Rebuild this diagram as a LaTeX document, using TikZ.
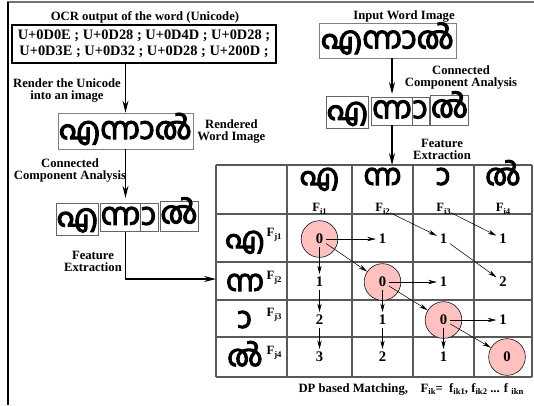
\documentclass[tikz,border=0pt]{standalone}
\usepackage{fontspec}
\setmainfont{Liberation Serif}
\newfontfamily\mlfont[Script=Malayalam, FakeBold=3.5]{Hind Kochi}
\usetikzlibrary{arrows.meta, positioning}
\definecolor{zeropink}{RGB}{255,192,192}
\newcommand{\lowsub}[1]{\raisebox{-0.45ex}{\fontsize{6.5}{6.5}\selectfont #1}}
\newcommand{\aasign}{\kern-0.26em ^^^^00a0ാ}

\begin{document}
\begin{tikzpicture}[x=0.75pt, y=-0.75pt,
		every node/.style={font=\bfseries\fontsize{9.5}{9}\selectfont, inner sep=0pt},
		lbl/.style={align=center},
		codebox/.style={draw, line width=0.8pt, align=center, minimum width=198pt, minimum height=28.5pt, font=\bfseries\fontsize{10.8}{12}\selectfont},
		wordimg/.style={draw=black!50, line width=0.5pt, text height=16pt, text depth=4pt, font=\mlfont\mdseries\fontsize{23}{23}\selectfont},
		comp/.style={draw=black!60, line width=0.5pt, inner sep=0.3pt, text height=15pt, text depth=4pt, font=\mlfont\mdseries\fontsize{23}{23}\selectfont, minimum height=21pt},
		glyph/.style={text height=14pt, text depth=2pt, font=\mlfont\mdseries\fontsize{22}{22}\selectfont},
		val/.style={font=\bfseries\fontsize{11}{11}\selectfont, inner sep=2pt},
		zero/.style={draw, circle, fill=zeropink, minimum size=27.5pt, line width=0.4pt},
		gridline/.style={draw=black!65, line width=0.9pt},
		flow/.style={-{Stealth[length=9pt,width=4.5pt]}, line width=0.8pt},
		dp/.style={-{Stealth[length=6.5pt,width=3.2pt]}, line width=0.4pt}
		]
		\useasboundingbox (0,0) rectangle (534,405);
		% frame
		\draw[black!55, line width=1.5pt] (7,2) -- (534,2);
		\draw[line width=0.9pt] (8,2) -- (8,405);
		
		% left column: rendering the OCR output
		\node (ocrtitle) at (145,17) {OCR output of the word (Unicode)};
		\node[codebox] (codes) at (144,44) {U+0D0E ; U+0D28 ; U+0D4D ; U+0D28 ;\\U+0D3E ; U+0D32 ; U+0D28 ; U+200D ;};
		\node[wordimg, minimum width=101pt, minimum height=27pt] (rimg) at (125.5,131) {എന്നാൽ};
		\node[lbl, right = 3pt of rimg] (rlabel) {Rendered\\Word Image};
		\node[comp, minimum width=30.75pt, minimum height=24pt] (lb1) at (77.5,219) {എ};
		\node[comp, minimum width=29.25pt] (lb2) at (120.5,217.5) {ന്ന};
		\node[comp, minimum width=13.5pt] (lb3) at (149,217.5) {\aasign};
		\node[comp, minimum width=25.5pt, minimum height=22.5pt] (lb4) at (179,216) {ൽ};
		\node[lbl] (render) at (67,90) {Render the Unicode\\into an image};
		\node[lbl] (ccaleft) at (70,170) {Connected\\Component Analysis};
		\node[lbl] (feleft) at (93,261) {Feature\\Extraction};
		\coordinate (tabin) at (216,279);
		
		% right column: the input word image
		\node (intitle) at (404,16) {Input Word Image};
		\node[wordimg, minimum width=102.75pt, minimum height=26.25pt] (inimg) at (387.5,40.5) {എന്നാൽ};
		\node[comp, minimum width=30.75pt, minimum height=24pt] (rb1) at (347.5,112.5) {എ};
		\node[comp, minimum width=30pt] (rb2) at (392,111) {ന്ന};
		\node[comp, minimum width=12.75pt] (rb3) at (420.5,111) {\aasign};
		\node[comp, minimum width=26.25pt, minimum height=22.5pt] (rb4) at (449.5,110) {ൽ};
		\node[lbl] (ccaright) at (461,77) {Connected\\Component Analysis};
		\node[lbl] (feright) at (442,149) {Feature\\Extraction};
		\coordinate (tabtop) at (392,165);
		
		% DP table
		\foreach \x in {216,287,352,413,474,532}
			\draw[gridline] (\x,165) -- (\x,377);
		\foreach \y in {165,214,262,300,337,377}
			\draw[gridline] (216,\y) -- (532,\y);
		
		\node[glyph] (hd1) at (319.5,177) {എ};
		\node[glyph] (hd2) at (382.5,177) {ന്ന};
		\node[glyph] (hd3) at (443.5,177) {\aasign};
		\node[glyph] (hd4) at (503,177) {ൽ};
		\node (fi1) at (319.5,209) {F\lowsub{i1}};
		\node (fi2) at (382.5,209) {F\lowsub{i2}};
		\node (fi3) at (443.5,209) {F\lowsub{i3}};
		\node (fi4) at (503,209) {F\lowsub{i4}};
		
		\node[glyph] (rh1) at (245,240) {എ};
		\node[glyph] (rh2) at (245,283) {ന്ന};
		\node[glyph] (rh3) at (245,320) {\aasign};
		\node[glyph] (rh4) at (245,358) {ൽ};
		\node (fj1) at (274,235) {F\lowsub{j1}};
		\node (fj2) at (274,278) {F\lowsub{j2}};
		\node (fj3) at (274,315) {F\lowsub{j3}};
		\node (fj4) at (274,353) {F\lowsub{j4}};
		
		% matching path
		\node[zero] (z1) at (319.5,239) {};
		\node[zero] (z2) at (382.5,282) {};
		\node[zero] (z3) at (443.5,320) {};
		\node[zero] (z4) at (507,357) {};
		
		\node[val] (c11) at (z1) {0};
		\node[val] (c12) at (382.5,239) {1};
		\node[val] (c13) at (443.5,239) {1};
		\node[val] (c14) at (503,239) {1};
		\node[val] (c21) at (319.5,282) {1};
		\node[val] (c22) at (z2) {0};
		\node[val] (c23) at (443.5,282) {1};
		\node[val] (c24) at (503,282) {2};
		\node[val] (c31) at (319.5,320) {2};
		\node[val] (c32) at (382.5,320) {1};
		\node[val] (c33) at (z3) {0};
		\node[val] (c34) at (503,320) {1};
		\node[val] (c41) at (319.5,357) {3};
		\node[val] (c42) at (382.5,357) {2};
		\node[val] (c43) at (443.5,357) {1};
		\node[val] (c44) at (z4) {0};
		
		\node (caption) at (411,389) {DP based Matching,\quad F\lowsub{ik}=\ \ f\lowsub{ik1}, f\lowsub{ik2} ... f \lowsub{ikn}};
		
		% flow arrows
		\draw[flow] (codes.south -| rimg.north) -- (rimg.north);
		\draw[flow] (rimg.south) -- ([yshift=4pt]lb2.north -| rimg.south);
		\draw[flow] ([xshift=4pt]lb2.south) |- (tabin);
		\draw[flow] (inimg.south -| rb2.north) -- ([yshift=2pt]rb2.north);
		\draw[flow] (rb2.south) -- (tabtop);
		
		% DP arrows
		\draw[dp] (c11) -- (c12);
		\draw[dp] (c11) -- (c21);
		\draw[dp] (c11) -- (z2);
		\draw[dp] (c21) -- (c31);
		\draw[dp] (c31) -- (c41);
		\draw[dp] (c22) -- (c23);
		\draw[dp] (c22) -- (c32);
		\draw[dp] (c22) -- (z3);
		\draw[dp] (c32) -- (c42);
		\draw[dp] (c33) -- (c34);
		\draw[dp] (c33) -- (c43);
		\draw[dp] (c33) -- (z4);
		\draw[dp] (fi2) -- (c13);
		\draw[dp] (fi3) -- (c14);
		\draw[dp] (c13) -- (c24);
\end{tikzpicture}
\end{document}
